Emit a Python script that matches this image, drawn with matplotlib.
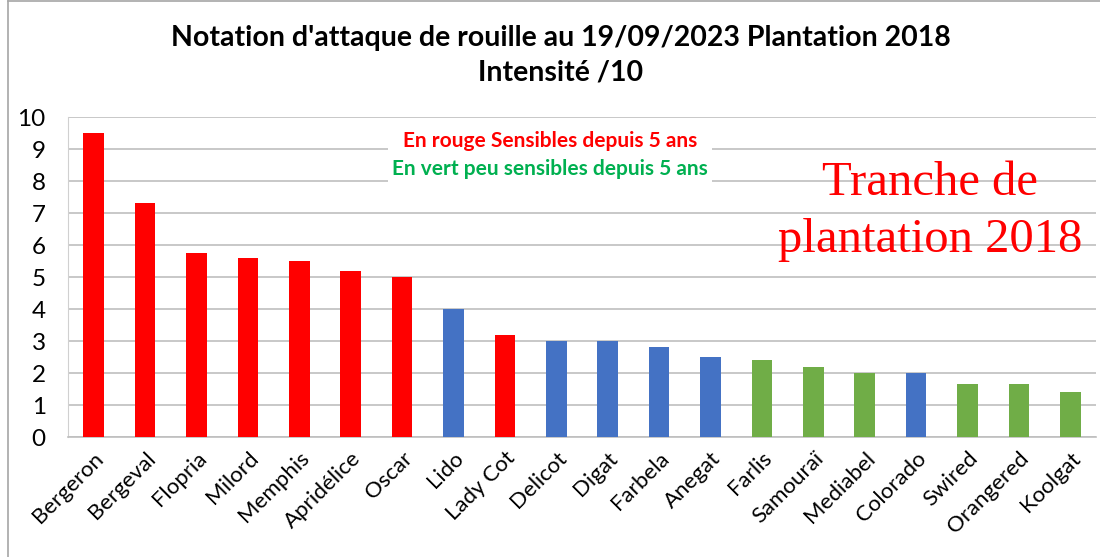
import matplotlib
matplotlib.use("Agg")
import matplotlib.pyplot as plt
from matplotlib.lines import Line2D
import numpy as np

# data
varietes = ["Bergeron", "Bergeval", "Flopria", "Milord", "Memphis", "Apridélice",
            "Oscar", "Lido", "Lady Cot", "Delicot", "Digat", "Farbela", "Anegat",
            "Farlis", "Samouraï", "Mediabel", "Colorado", "Swired", "Orangered",
            "Koolgat"]
intensite = [9.5, 7.3, 5.75, 5.6, 5.5, 5.2, 5.0, 4.0, 3.2, 3.0, 3.0, 2.8, 2.5,
             2.4, 2.2, 2.0, 2.0, 1.65, 1.65, 1.4]
# r = sensible, b = intermediaire, v = peu sensible
groupe = ["r", "r", "r", "r", "r", "r", "r", "b", "r", "b", "b", "b", "b",
          "v", "v", "v", "b", "v", "v", "v"]

couleurs = {"r": "#FF0000", "b": "#4472C4", "v": "#70AD47"}

plt.rcParams['font.family'] = ['Lato', 'DejaVu Sans']

fig = plt.figure(figsize=(11, 5.57), dpi=100)
ax = fig.add_axes([68 / 1100, 1 - 437 / 557, (1096 - 68) / 1100, (437 - 117) / 557])

x = np.arange(len(varietes))
ax.bar(x, intensite, width=0.4, color=[couleurs[g] for g in groupe], zorder=3)

ax.set_xlim(-0.5, len(varietes) - 0.5)
ax.set_ylim(0, 10)
ax.set_yticks(range(0, 11))
ax.yaxis.grid(True, color="#BFBFBF", lw=1.2, zorder=0)
ax.set_axisbelow(True)
for s in ["top", "right"]:
    ax.spines[s].set_visible(False)
ax.spines["left"].set_color("#D0D0D0")
ax.spines["bottom"].set_color("#BFBFBF")
ax.spines["bottom"].set_linewidth(1.2)
ax.tick_params(axis="y", length=0, labelsize=17.5, pad=16)
ax.set_xticks(x)
ax.set_xticklabels(varietes, rotation=45, ha="right", rotation_mode="anchor",
                   fontsize=16)
ax.tick_params(axis="x", length=0, pad=8)

fig.text(0.51, 1 - 38 / 557, "Notation d'attaque de rouille au 19/09/2023 Plantation 2018",
         ha="center", va="center", fontsize=20.5, fontweight="bold")
fig.text(0.51, 1 - 73 / 557, "Intensité /10", ha="center", va="center",
         fontsize=20.5, fontweight="bold")

# legend texts in white box
ax.text(0.469, 0.935, "En rouge Sensibles depuis 5 ans\nEn vert peu sensibles depuis 5 ans",
        transform=ax.transAxes, alpha=0, ha="center", va="top", fontsize=15,
        bbox=dict(facecolor="white", edgecolor="none", pad=4), zorder=4)
fig.text(0.5, 1 - 141 / 557, "En rouge Sensibles depuis 5 ans", ha="center",
         va="center", fontsize=15, fontweight="bold", color="#FF0000", zorder=5)
fig.text(0.5, 1 - 169 / 557, "En vert peu sensibles depuis 5 ans", ha="center",
         va="center", fontsize=15, fontweight="bold", color="#00B050", zorder=5)

fig.text(930 / 1100, 1 - 183 / 557, "Tranche de", ha="center", va="center",
         fontsize=35, color="#FF0000", family="Liberation Serif")
fig.text(930 / 1100, 1 - 240 / 557, "plantation 2018", ha="center", va="center",
         fontsize=35, color="#FF0000", family="Liberation Serif")

# frame of the chart area
fig.add_artist(Line2D([8 / 1100, 8 / 1100], [0, 1 - 1 / 557], color="#A6A6A6", lw=1.2))
fig.add_artist(Line2D([8 / 1100, 1], [1 - 1 / 557, 1 - 1 / 557], color="#A6A6A6", lw=1.2))

fig.savefig("out.png", dpi=100)
